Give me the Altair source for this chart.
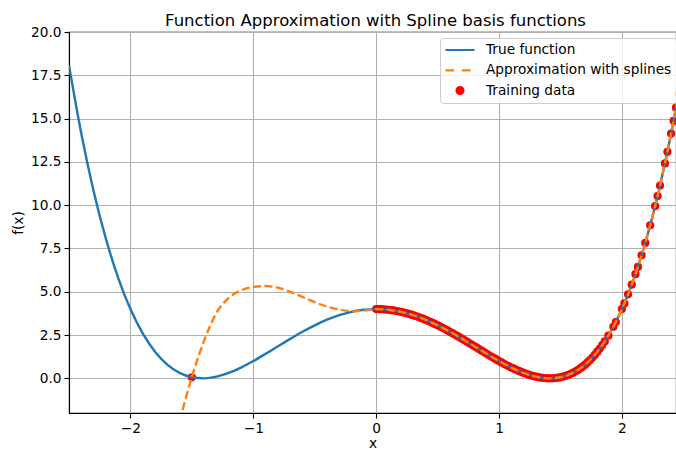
import altair as alt
import pandas as pd

# ---- data ----
SERIES = ["True function", "Approximation with splines", "Training data"]

true_x = [-2.5, -2.4, -2.3, -2.2, -2.1, -2.0, -1.9, -1.8, -1.7, -1.6, -1.5, -1.4, -1.3,
          -1.2, -1.1, -1.0, -0.9, -0.8, -0.7, -0.6, -0.5, -0.4, -0.3, -0.2, -0.1, 0.0,
          0.1, 0.2, 0.3, 0.4, 0.5, 0.6, 0.7, 0.8, 0.9, 1.0, 1.1, 1.2, 1.3, 1.4, 1.5,
          1.6, 1.7, 1.8, 1.9, 2.0, 2.1, 2.2, 2.3, 2.4, 2.5]
true_y = [18.0625, 14.1376, 10.8241, 8.0656, 5.8081, 4.0, 2.5921, 1.5376, 0.7921, 0.3136,
          0.0625, 0.0016, 0.0961, 0.3136, 0.6241, 1.0, 1.4161, 1.8496, 2.2801, 2.6896,
          3.0625, 3.3856, 3.6481, 3.8416, 3.9601, 4.0,
          3.9601, 3.8416, 3.6481, 3.3856, 3.0625, 2.6896, 2.2801, 1.8496, 1.4161, 1.0,
          0.6241, 0.3136, 0.0961, 0.0016, 0.0625, 0.3136, 0.7921, 1.5376, 2.5921, 4.0,
          5.8081, 8.0656, 10.8241, 14.1376, 18.0625]

approx_x = [-1.6, -1.5, -1.4, -1.3, -1.2, -1.1, -1.0, -0.9, -0.8, -0.7, -0.6, -0.5, -0.4,
            -0.3, -0.2, -0.1, 0.0, 0.1, 0.2, 0.3, 0.4, 0.5, 0.6, 0.7, 0.8, 0.9, 1.0, 1.1,
            1.2, 1.3, 1.4, 1.5, 1.6, 1.7, 1.8, 1.9, 2.0, 2.1, 2.2, 2.3, 2.4, 2.5]
approx_y = [-2.47, 0.08, 2.18, 3.78, 4.65, 5.08, 5.28, 5.33, 5.24, 5.0, 4.7, 4.4, 4.14,
            3.97, 3.89, 3.92, 4.0, 3.9601, 3.8416, 3.6481, 3.3856, 3.0625, 2.6896, 2.2801,
            1.8496, 1.4161, 1.0, 0.6241, 0.3136, 0.0961, 0.0016, 0.0625, 0.3136, 0.7921,
            1.5376, 2.5921, 4.0, 5.8081, 8.0656, 10.8241, 14.1376, 18.0625]

train_x = [-1.5,
           0.0, 0.02, 0.04, 0.06, 0.08, 0.1, 0.12, 0.14, 0.16, 0.18, 0.2, 0.22, 0.24, 0.26,
           0.28, 0.3, 0.32, 0.34, 0.36, 0.38, 0.4, 0.42, 0.44, 0.46, 0.48, 0.5, 0.52, 0.54,
           0.56, 0.58, 0.6, 0.62, 0.64, 0.66, 0.68, 0.7, 0.72, 0.74, 0.76, 0.78, 0.8, 0.82,
           0.84, 0.86, 0.88, 0.9, 0.92, 0.94, 0.96, 0.98, 1.0, 1.02, 1.04, 1.06, 1.08, 1.1,
           1.12, 1.14, 1.16, 1.18, 1.2, 1.22, 1.24, 1.26, 1.28, 1.3, 1.32, 1.34, 1.36, 1.38,
           1.4, 1.42, 1.44, 1.46, 1.48, 1.5, 1.52, 1.54, 1.56, 1.58, 1.6, 1.62, 1.64, 1.66,
           1.68, 1.7, 1.72, 1.74, 1.76, 1.78, 1.8, 1.82, 1.84, 1.86,
           1.89, 1.93, 1.95, 2.0, 2.02, 2.05, 2.08, 2.11, 2.13, 2.16, 2.19, 2.23, 2.27, 2.29,
           2.31, 2.35, 2.37, 2.4, 2.42, 2.44, 2.46]
train_y = [0.0625,
           4.0, 3.9984, 3.9936, 3.9856, 3.9744, 3.9601, 3.9426, 3.922, 3.8983, 3.8714,
           3.8416, 3.8087, 3.7729, 3.7342, 3.6925, 3.6481, 3.6009, 3.551, 3.4984, 3.4433,
           3.3856, 3.3255, 3.2631, 3.1984, 3.1315, 3.0625, 2.9915, 2.9186, 2.8439, 2.7676,
           2.6896, 2.6102, 2.5294, 2.4473, 2.3642, 2.2801, 2.1951, 2.1095, 2.0232, 1.9366,
           1.8496, 1.7625, 1.6755, 1.5886, 1.5021, 1.4161, 1.3308, 1.2463, 1.1629, 1.0808,
           1.0, 0.9208, 0.8435, 0.7681, 0.6949, 0.6241, 0.5559, 0.4906, 0.4282, 0.3692,
           0.3136, 0.2617, 0.2138, 0.1701, 0.1308, 0.0961, 0.0664, 0.0418, 0.0226, 0.0091,
           0.0016, 0.0003, 0.0054, 0.0173, 0.0363, 0.0625, 0.0963, 0.1381, 0.188, 0.2464,
           0.3136, 0.3899, 0.4755, 0.5709, 0.6763, 0.7921, 0.9185, 1.056, 1.2047, 1.3652,
           1.5376, 1.7224, 1.9199, 2.1304,
           2.4715, 2.9753, 3.249, 4.0, 4.3281, 4.851, 5.4121, 6.0128, 6.4359, 7.1054,
           7.8182, 8.8381, 9.9408, 10.5242, 11.1296, 12.408, 13.082, 14.1376, 14.8718,
           15.631, 16.4155]

x_ticks = [-2, -1, 0, 1, 2]
y_ticks = [0.0, 2.5, 5.0, 7.5, 10.0, 12.5, 15.0, 17.5, 20.0]

# ---- styling ----
COLORS = ["#1f77b4", "#ff7f0e", "#ff0000"]
SHAPES = [
    "M-1,0H1",
    "M-1,0H-0.4M0.13,0H0.73",
    "M0.24,0A0.24,0.24 0 1,1 -0.24,0A0.24,0.24 0 1,1 0.24,0Z"
    "M0.09,0A0.09,0.09 0 1,1 -0.09,0A0.09,0.09 0 1,1 0.09,0Z",
]
FONT = "DejaVu Sans"

true_df = pd.DataFrame({"x": true_x, "y": true_y, "series": SERIES[0]})
approx_df = pd.DataFrame({"x": approx_x, "y": approx_y, "series": SERIES[1]})
train_df = pd.DataFrame({"x": train_x, "y": train_y, "series": SERIES[2]})

legend = alt.Legend(
    title=None, orient="none", legendX=371, legendY=6,
    labelFont=FONT, labelFontSize=13.7, labelColor="#000000", labelLimit=400,
    symbolSize=841, symbolStrokeWidth=2.2, labelOffset=10, padding=4,
    rowPadding=4.3, clipHeight=16, fillColor="rgba(255,255,255,0.8)",
    strokeColor="#cccccc", cornerRadius=3,
)

x_enc = alt.X("x:Q", scale=alt.Scale(domain=[-2.5, 2.44], nice=False, zero=False),
              axis=alt.Axis(values=x_ticks, title="x",
                            labelExpr="replace(datum.label, '-', '\u2212')"))
y_enc = alt.Y("y:Q", scale=alt.Scale(domain=[-2, 20], nice=False, zero=False),
              axis=alt.Axis(values=y_ticks, format=".1f", title="f(x)"))
color_enc = alt.Color("series:N", scale=alt.Scale(domain=SERIES, range=COLORS), legend=legend)
shape_enc = alt.Shape("series:N", scale=alt.Scale(domain=SERIES, range=SHAPES), legend=legend)

points = alt.Chart(train_df).mark_point(
    filled=False, strokeWidth=2, size=676, opacity=1, clip=True
).encode(x=x_enc, y=y_enc, color=color_enc, shape=shape_enc)

true_line = alt.Chart(true_df).mark_line(
    strokeWidth=2.4, interpolate="monotone", clip=True
).encode(x=x_enc, y=y_enc, color=color_enc)

approx_line = alt.Chart(approx_df).mark_line(
    strokeWidth=2.4, strokeDash=[8, 3.5], interpolate="monotone", clip=True
).encode(x=x_enc, y=y_enc, color=color_enc)

chart = alt.layer(points, true_line, approx_line).properties(
    width=607, height=381,
    autosize=alt.AutoSizeParams(type="none"),
    padding={"left": 69, "top": 32, "right": 0, "bottom": 38},
    title=alt.TitleParams("Function Approximation with Spline basis functions",
                          font=FONT, fontSize=16.5, fontWeight="normal", color="#000000",
                          anchor="middle", baseline="bottom", offset=4, dx=3, dy=24),
).configure(
    font=FONT, background="#ffffff",
).configure_view(
    stroke="#000000", strokeWidth=1.1,
).configure_axis(
    labelFont=FONT, labelFontSize=13.7, labelColor="#000000",
    titleFont=FONT, titleFontSize=13.7, titleColor="#000000", titleFontWeight="normal",
    domainColor="#000000", domainWidth=1.1, tickColor="#000000", tickWidth=1.1,
    tickSize=5, labelPadding=3, gridColor="#b0b0b0", gridWidth=1.1,
).configure_axisX(
    titlePadding=2,
).configure_axisY(
    titlePadding=5,
)

chart.save("out.html", embed_options={"renderer": "svg", "actions": False})
